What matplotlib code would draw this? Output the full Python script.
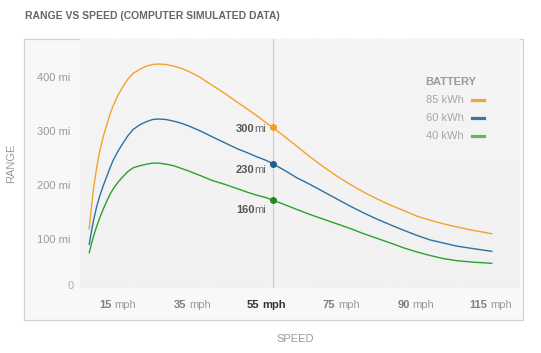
import numpy as np
import matplotlib
matplotlib.use('Agg')
import matplotlib.pyplot as plt
from matplotlib.offsetbox import TextArea, HPacker, AnnotationBbox
from matplotlib.patches import Rectangle
from matplotlib.lines import Line2D
from matplotlib.colors import LinearSegmentedColormap

# ---------------- data ----------------
speed_labels = ['15', '35', '55', '75', '90', '115']
# curve sample positions along the (evenly spaced) speed axis, in tick units
speed_pos = [-0.46, -0.43, -0.40, -0.36, -0.32, -0.27, -0.22, -0.18, -0.14, -0.07,
             0.0, 0.06, 0.13, 0.22, 0.31, 0.39, 0.47, 0.57, 0.67, 0.77, 0.87,
             1.03, 1.2, 1.36, 1.52, 1.66, 1.79, 1.9, 2.0, 2.16, 2.32, 2.5, 2.68,
             2.86, 3.04, 3.22, 3.4, 3.58, 3.75, 3.93, 4.11, 4.29, 4.47, 4.7, 4.94]
range_85 = [104, 146, 184, 222, 253, 283, 307, 326, 341, 363,
            380, 393, 404, 412, 418, 421, 422, 421, 418, 414, 408,
            396, 380, 365, 349, 335, 322, 310, 300, 282, 264, 243, 224,
            206, 190, 175, 162, 150, 140, 129, 121, 114, 108, 101, 95]
range_60 = [74, 99, 122, 147, 167, 188, 207, 222, 236, 255,
            271, 284, 296, 305, 311, 315, 316, 315, 312, 308, 303,
            293, 281, 270, 259, 251, 243, 237, 230, 217, 203, 190, 176,
            162, 148, 135, 123, 112, 102, 92, 83, 77, 71, 66, 61]
range_40 = [58, 75, 91, 109, 125, 143, 159, 171, 181, 195,
            206, 215, 222, 226, 229, 231, 231, 229, 226, 221, 216,
            207, 197, 190, 182, 175, 169, 165, 160, 151, 142, 132, 123,
            114, 105, 95, 86, 77, 68, 60, 53, 47, 43, 40, 38]
battery_labels = ['85 kWh', '60 kWh', '40 kWh']
highlight_speed = '55'
highlight_values = [300, 230, 160]
y_ticks = [0, 100, 200, 300, 400]
title = 'RANGE VS SPEED (COMPUTER SIMULATED DATA)'

# ---------------- style ----------------
plt.rcParams['font.family'] = ['Liberation Sans', 'DejaVu Sans']
line_colors = ['#f2a22e', '#2a72a3', '#2ea02e']
dot_colors = ['#efa02a', '#1d5f8c', '#1f8a22']
legend_colors = ['#f0a540', '#3479a8', '#5cb85c']
label_dy = [-2, -6, -10]          # pixel offsets of the value labels
ytick_dy = [-3, -9, -7, -5, -3]   # pixel offsets of the y tick labels

W, H = 541, 353
fig = plt.figure(figsize=(W / 100, H / 100), dpi=100)
fig.patch.set_facecolor('white')


def fx(x):
    return x / W


def fy(y):
    return 1 - y / H


panel = Rectangle((fx(24), fy(320)), (523 - 24) / W, (320 - 39) / H,
                  transform=fig.transFigure, facecolor='#f8f8f8',
                  edgecolor='#d2d2d2', lw=0.9, zorder=0)
fig.add_artist(panel)

ax = fig.add_axes([fx(80), fy(288), (520 - 80) / W, (288 - 39) / H])
ax.set_facecolor('none')
for s in ax.spines.values():
    s.set_visible(False)

grad = np.linspace(0, 1, 100).reshape(-1, 1)
cmap = LinearSegmentedColormap.from_list('g', ['#f5f5f5', '#f1f1f1'])
ax.imshow(grad, extent=[0, 1, 0, 1], origin='upper', transform=ax.transAxes,
          aspect='auto', cmap=cmap, zorder=0)

hi = speed_labels.index(highlight_speed)
ax.axvline(hi, color='#cccccc', lw=0.8, zorder=1)

for vals, c in zip([range_85, range_60, range_40], line_colors):
    ax.plot(speed_pos, vals, color=c, lw=1.0, zorder=2,
            solid_joinstyle='round', solid_capstyle='round')

for v, c, dy in zip(highlight_values, dot_colors, label_dy):
    ax.plot(hi, v, 'o', ms=4.0, color=c, zorder=3)
    box = HPacker(children=[
        TextArea(f'{v}', textprops=dict(color='#555555', fontsize=8, fontweight='bold')),
        TextArea('mi', textprops=dict(color='#666666', fontsize=8))],
        align='baseline', pad=0, sep=-0.5)
    ab = AnnotationBbox(box, (hi, v), xycoords='data', xybox=(-7, dy),
                        boxcoords='offset pixels', box_alignment=(1, 0.5),
                        frameon=False, zorder=4)
    ax.add_artist(ab)

ax.set_xlim((80 - 123.5) / 74.59, (520 - 123.5) / 74.59)
ax.set_ylim((293.2 - 288) / -0.5407, (293.2 - 39) / 0.5407)
ax.set_xticks([])
ax.set_yticks([])

for v, dy in zip(y_ticks, ytick_dy):
    txt = '0' if v == 0 else f'{v} mi'
    ax.annotate(txt, xy=(0, v), xycoords=('axes fraction', 'data'),
                xytext=(-10 if v else -6, dy), textcoords='offset pixels',
                ha='right', va='center', fontsize=8,
                color='#b0b0b0' if v == 0 else '#9a9a9a', annotation_clip=False)

for i, lab in enumerate(speed_labels):
    if lab == highlight_speed:
        p1 = dict(color='#333333', fontsize=8, fontweight='bold')
        p2 = dict(color='#333333', fontsize=8, fontweight='bold')
    else:
        p1 = dict(color='#808080', fontsize=8, fontweight='bold')
        p2 = dict(color='#9a9a9a', fontsize=8)
    box = HPacker(children=[TextArea(lab, textprops=p1), TextArea('mph', textprops=p2)],
                  align='baseline', pad=0, sep=2.2)
    ab = AnnotationBbox(box, (i, 0), xycoords=('data', 'axes fraction'),
                        xybox=(-6, -17), boxcoords='offset pixels',
                        box_alignment=(0.5, 0.5), frameon=False,
                        annotation_clip=False)
    ax.add_artist(ab)

# legend
fig.text(fx(425), fy(81.7), 'BATTERY', fontsize=8, fontweight='bold',
         color='#9a9a9a', ha='left', va='center')
for k, (lab, c) in enumerate(zip(battery_labels, legend_colors)):
    yy = 100 + 18 * k
    fig.text(fx(464), fy(yy), lab, fontsize=8, color='#a8a8a8', ha='right', va='center')
    fig.add_artist(Line2D([fx(471.7), fx(484)], [fy(yy), fy(yy)],
                          transform=fig.transFigure, color=c, lw=2.3))

fig.text(fx(295.6), fy(338.6), 'SPEED', fontsize=8, color='#9a9a9a',
         ha='center', va='center')
fig.text(fx(11), fy(163), 'RANGE', fontsize=8, color='#9a9a9a',
         ha='center', va='center', rotation=90)
fig.text(fx(25), fy(15.6), title, fontsize=7.5, fontweight='bold',
         color='#666666', ha='left', va='center')

fig.savefig('out.png', dpi=100)
